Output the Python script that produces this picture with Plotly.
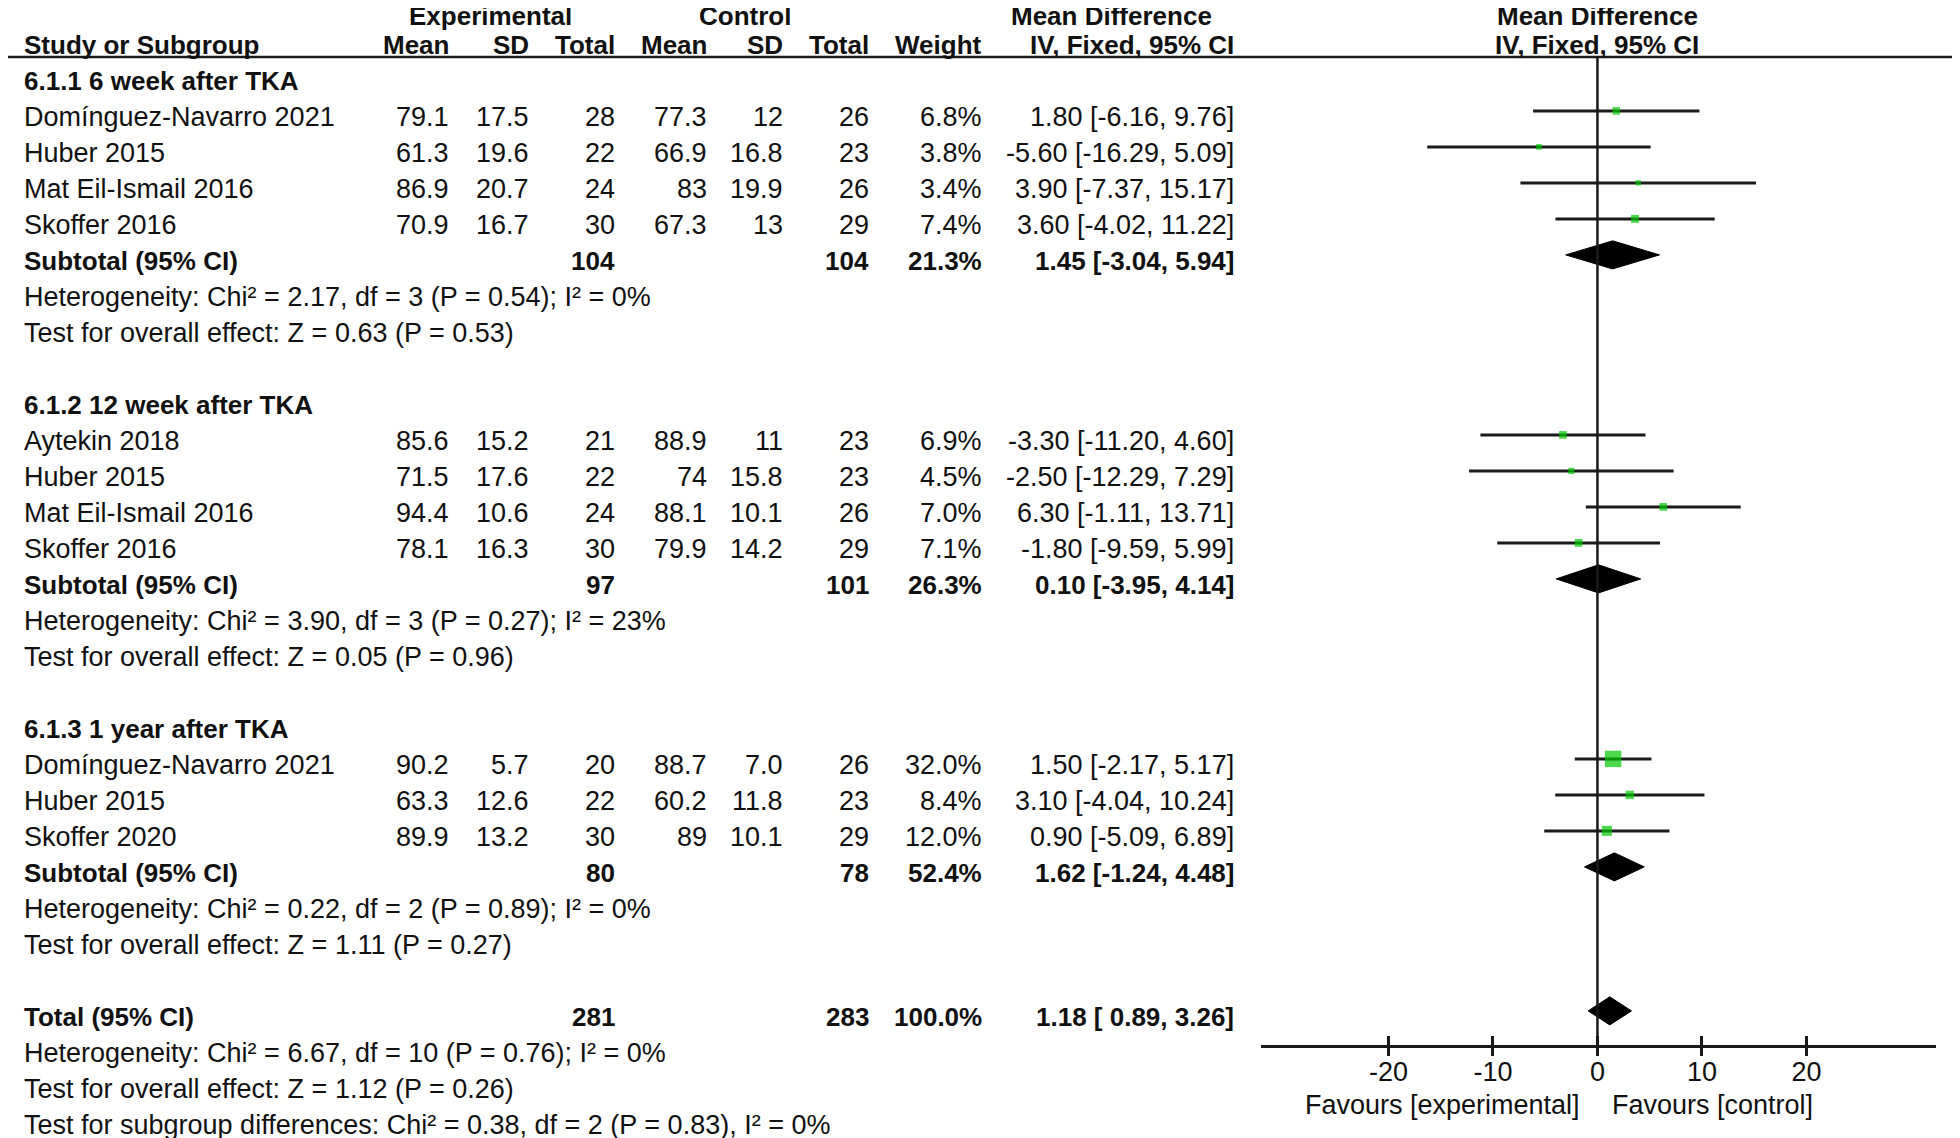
import math
import plotly.graph_objects as go

W, H = 1960, 1138
OFF = 8  # default page (body) margin that shifts the figure
FW, FH = W - OFF, H - OFF

# ---------------- data ----------------
group_titles = ["6.1.1 6 week after TKA", "6.1.2 12 week after TKA", "6.1.3 1 year after TKA"]
study_group = [0, 0, 0, 0, 1, 1, 1, 1, 2, 2, 2]
study_names = ["Domínguez-Navarro 2021", "Huber 2015", "Mat Eil-Ismail 2016", "Skoffer 2016",
               "Aytekin 2018", "Huber 2015", "Mat Eil-Ismail 2016", "Skoffer 2016",
               "Domínguez-Navarro 2021", "Huber 2015", "Skoffer 2020"]
exp_mean = ["79.1", "61.3", "86.9", "70.9", "85.6", "71.5", "94.4", "78.1", "90.2", "63.3", "89.9"]
exp_sd = ["17.5", "19.6", "20.7", "16.7", "15.2", "17.6", "10.6", "16.3", "5.7", "12.6", "13.2"]
exp_n = [28, 22, 24, 30, 21, 22, 24, 30, 20, 22, 30]
ctl_mean = ["77.3", "66.9", "83", "67.3", "88.9", "74", "88.1", "79.9", "88.7", "60.2", "89"]
ctl_sd = ["12", "16.8", "19.9", "13", "11", "15.8", "10.1", "14.2", "7.0", "11.8", "10.1"]
ctl_n = [26, 23, 26, 29, 23, 23, 26, 29, 26, 23, 29]
weight = [6.8, 3.8, 3.4, 7.4, 6.9, 4.5, 7.0, 7.1, 32.0, 8.4, 12.0]
md = [1.80, -5.60, 3.90, 3.60, -3.30, -2.50, 6.30, -1.80, 1.50, 3.10, 0.90]
ci_lo = [-6.16, -16.29, -7.37, -4.02, -11.20, -12.29, -1.11, -9.59, -2.17, -4.04, -5.09]
ci_hi = [9.76, 5.09, 15.17, 11.22, 4.60, 7.29, 13.71, 5.99, 5.17, 10.24, 6.89]

sub_exp_n = [104, 97, 80]
sub_ctl_n = [104, 101, 78]
sub_weight = [21.3, 26.3, 52.4]
sub_md = [1.45, 0.10, 1.62]
sub_lo = [-3.04, -3.95, -1.24]
sub_hi = [5.94, 4.14, 4.48]
sub_het = ["Heterogeneity: Chi² = 2.17, df = 3 (P = 0.54); I² = 0%",
           "Heterogeneity: Chi² = 3.90, df = 3 (P = 0.27); I² = 23%",
           "Heterogeneity: Chi² = 0.22, df = 2 (P = 0.89); I² = 0%"]
sub_test = ["Test for overall effect: Z = 0.63 (P = 0.53)",
            "Test for overall effect: Z = 0.05 (P = 0.96)",
            "Test for overall effect: Z = 1.11 (P = 0.27)"]

total_exp_n = 281
total_ctl_n = 283
total_weight = 100.0
total_md = 1.18
total_lo = -0.89
total_hi = 3.26
total_ci_label = "1.18 [ 0.89, 3.26]"
total_het = "Heterogeneity: Chi² = 6.67, df = 10 (P = 0.76); I² = 0%"
total_test = "Test for overall effect: Z = 1.12 (P = 0.26)"
subgroup_test = "Test for subgroup differences: Chi² = 0.38, df = 2 (P = 0.83), I² = 0%"

x_ticks = [-20, -10, 0, 10, 20]
x_range = [-32.2, 32.4]
fav_left = "Favours [experimental]"
fav_right = "Favours [control]"

# ---------------- layout constants (window pixels) ----------------
ROW0_PX, ROW_PX = 81, 36
COL_NAME = 22
COL_EM, COL_ESD, COL_EN = 451, 531, 617
COL_CM, COL_CSD, COL_CN = 709, 785, 871
COL_W, COL_CI = 984, 1236
PLOT_L, PLOT_R = 1261, 1936
AXIS_Y = 1046
HEAD_LINE_Y = 57
FAV_Y = 1105
FONT = "Liberation Sans, Arial, sans-serif"
FS_B = 26
FS_R = 27
TXT = "#111111"
LINE = "#1a1a1a"
GREEN = "#00c800"


def px_x(p):
    return (p - OFF) / FW


def px_y(p):
    return 1 - (p - OFF) / FH


y_top = (0 + OFF - ROW0_PX) / ROW_PX
y_bot = (FH + OFF - ROW0_PX) / ROW_PX

annotations = []


def txt(xpx, row, s, anchor="right", bold=False, yref="y", yshift=0):
    if bold:
        s = "<b>" + s + "</b>"
    annotations.append(dict(x=px_x(xpx), xref="paper", y=row, yref=yref, text=s,
                            xanchor=anchor, yanchor="middle", showarrow=False, yshift=yshift,
                            font=dict(family=FONT, size=FS_B if bold else FS_R, color=TXT)))


# headers (top line nudged down so it stays inside the page)
txt(490, -2, "Experimental", "center", True, yshift=-7)
txt(745, -2, "Control", "center", True, yshift=-7)
txt(1111, -2, "Mean Difference", "center", True, yshift=-7)
txt(1597, -2, "Mean Difference", "center", True, yshift=-7)
txt(COL_NAME, -1, "Study or Subgroup", "left", True)
for xp, s in [(COL_EM, "Mean"), (COL_ESD, "SD"), (COL_EN, "Total"), (COL_CM, "Mean"),
              (COL_CSD, "SD"), (COL_CN, "Total"), (COL_W, "Weight"), (COL_CI, "IV, Fixed, 95% CI")]:
    txt(xp, -1, s, "right", True)
txt(1597, -1, "IV, Fixed, 95% CI", "center", True)

# rows
study_rows = []
sub_rows = []
row = 0
for g, title in enumerate(group_titles):
    txt(COL_NAME, row, title, "left", True)
    row += 1
    for i in range(len(study_names)):
        if study_group[i] != g:
            continue
        study_rows.append(row)
        txt(COL_NAME, row, study_names[i], "left")
        txt(COL_EM, row, exp_mean[i])
        txt(COL_ESD, row, exp_sd[i])
        txt(COL_EN, row, str(exp_n[i]))
        txt(COL_CM, row, ctl_mean[i])
        txt(COL_CSD, row, ctl_sd[i])
        txt(COL_CN, row, str(ctl_n[i]))
        txt(COL_W, row, f"{weight[i]:.1f}%")
        txt(COL_CI, row, f"{md[i]:.2f} [{ci_lo[i]:.2f}, {ci_hi[i]:.2f}]")
        row += 1
    sub_rows.append(row)
    txt(COL_NAME, row, "Subtotal (95% CI)", "left", True)
    txt(COL_EN, row, str(sub_exp_n[g]), bold=True)
    txt(COL_CN, row, str(sub_ctl_n[g]), bold=True)
    txt(COL_W, row, f"{sub_weight[g]:.1f}%", bold=True)
    txt(COL_CI, row, f"{sub_md[g]:.2f} [{sub_lo[g]:.2f}, {sub_hi[g]:.2f}]", bold=True)
    row += 1
    txt(COL_NAME, row, sub_het[g], "left")
    row += 1
    txt(COL_NAME, row, sub_test[g], "left")
    row += 2

total_row = row
txt(COL_NAME, row, "Total (95% CI)", "left", True)
txt(COL_EN, row, str(total_exp_n), bold=True)
txt(COL_CN, row, str(total_ctl_n), bold=True)
txt(COL_W, row, f"{total_weight:.1f}%", bold=True)
txt(COL_CI, row, total_ci_label, bold=True)
txt(COL_NAME, row + 1, total_het, "left")
txt(COL_NAME, row + 2, total_test, "left")
txt(COL_NAME, row + 3, subgroup_test, "left")

# favours labels
txt(1582, px_y(FAV_Y), fav_left, "right", yref="paper")
txt(1610, px_y(FAV_Y), fav_right, "left", yref="paper")

# ---------------- traces ----------------
fig = go.Figure()
MOFF = -0.17  # marks sit slightly above the text centre line

lx, ly = [], []
for i, r in enumerate(study_rows):
    lx += [ci_lo[i], ci_hi[i], None]
    ly += [r + MOFF, r + MOFF, None]
fig.add_trace(go.Scatter(x=lx, y=ly, mode="lines", line=dict(color=LINE, width=3),
                         hoverinfo="skip", showlegend=False))
fig.add_trace(go.Scatter(x=md, y=[r + MOFF for r in study_rows], mode="markers",
                         marker=dict(symbol="square", color=GREEN,
                                     size=[2.9 * math.sqrt(w) for w in weight], line=dict(width=0)),
                         showlegend=False))

DH = 0.39
diamonds = [(sub_lo[g], sub_md[g], sub_hi[g], sub_rows[g]) for g in range(3)]
diamonds.append((total_lo, total_md, total_hi, total_row))
for lo, est, hi, r in diamonds:
    rc = r + MOFF
    fig.add_trace(go.Scatter(x=[lo, est, hi, est, lo], y=[rc, rc - DH, rc, rc + DH, rc],
                             mode="lines", fill="toself", fillcolor="black",
                             line=dict(color="black", width=1), hoverinfo="skip", showlegend=False))

# helper trace for the second (inside-tick) axis
fig.add_trace(go.Scatter(x=[0], y=[y_bot], xaxis="x2", yaxis="y", mode="markers",
                         marker=dict(opacity=0), hoverinfo="skip", showlegend=False))

# ---------------- layout ----------------
shapes = [
    dict(type="line", xref="paper", yref="paper", x0=0, x1=1,
         y0=px_y(HEAD_LINE_Y), y1=px_y(HEAD_LINE_Y), line=dict(color=LINE, width=2.5)),
    dict(type="line", xref="x", yref="paper", x0=0, x1=0,
         y0=px_y(HEAD_LINE_Y), y1=px_y(AXIS_Y), line=dict(color=LINE, width=2.5)),
]

axis_common = dict(domain=[px_x(PLOT_L), px_x(PLOT_R)], range=x_range, anchor="free",
                   position=px_y(AXIS_Y), showgrid=False, zeroline=False,
                   tickvals=x_ticks, tickwidth=2.5, tickcolor=LINE, fixedrange=True)

fig.update_layout(
    width=FW, height=FH, margin=dict(l=0, r=0, t=0, b=0),
    paper_bgcolor="white", plot_bgcolor="rgba(0,0,0,0)",
    xaxis=dict(**axis_common, showline=True, linecolor=LINE, linewidth=2.5, ticks="outside",
               ticklen=8, ticklabelstandoff=-7,
               ticktext=[str(v) for v in x_ticks],
               tickfont=dict(family=FONT, size=FS_R, color=TXT)),
    xaxis2=dict(**axis_common, overlaying="x", showline=False, ticks="inside", ticklen=10,
                showticklabels=False),
    yaxis=dict(domain=[0, 1], range=[y_bot, y_top], visible=False, fixedrange=True),
    annotations=annotations, shapes=shapes, showlegend=False,
)

fig.write_html("out.html")
